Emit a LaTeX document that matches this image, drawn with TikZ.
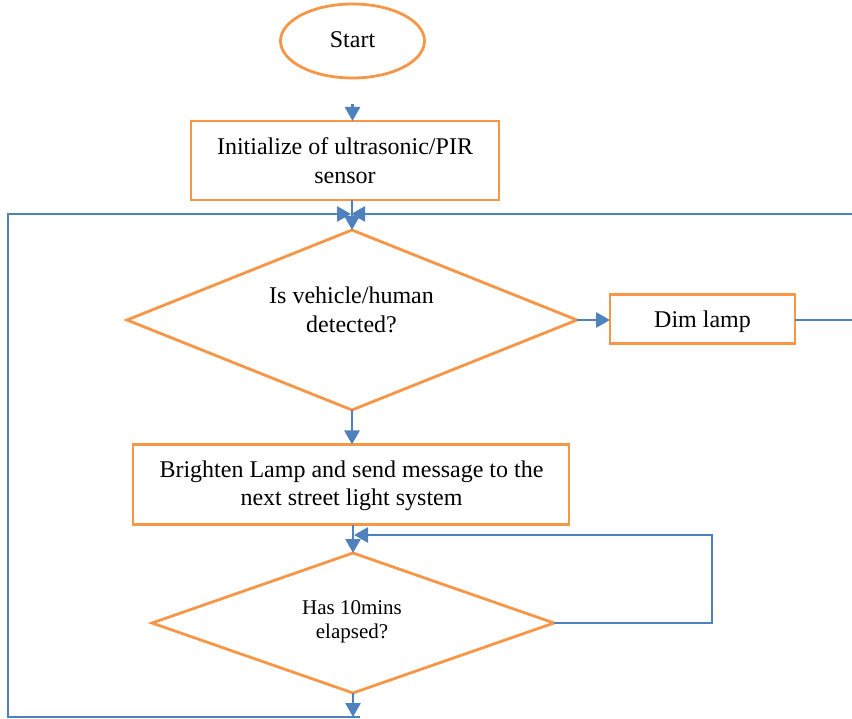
\documentclass[tikz,border=0pt]{standalone}
\usepackage{fontspec}
\setmainfont{Liberation Serif}
\usetikzlibrary{shapes.geometric,arrows.meta}
\definecolor{flowor}{RGB}{247,150,70}
\definecolor{flowbl}{RGB}{79,129,189}
\tikzset{
  box/.style={draw=flowor, line width=2.8pt, rectangle, inner sep=0pt, outer sep=0pt, align=center, font=\fontsize{24}{28.5}\selectfont},
  decision/.style={draw=flowor, line width=2.8pt, diamond, inner sep=0pt, outer sep=0pt},
  term/.style={draw=flowor, line width=2.8pt, ellipse, inner sep=0pt, outer sep=0pt},
  lbl/.style={align=center, inner sep=0pt, font=\fontsize{24}{28.5}\selectfont},
  lblsmall/.style={align=center, inner sep=0pt, font=\fontsize{21}{23.5}\selectfont},
  arr/.style={draw=flowbl, line width=2.7pt, -{Triangle[length=14pt,width=15pt]}},
}
\begin{document}
\begin{tikzpicture}[x=1pt,y=-1pt]
\useasboundingbox (0,0) rectangle (852,719);
\clip (0,0) rectangle (852,719);

% shapes
\node[term, minimum width=144pt, minimum height=74pt] (start) at (352.5,41) {};
\node[lbl, anchor=base] (startt) at (352.5,48) {Start};
\node[box, minimum width=308pt, minimum height=79pt] (init) at (345,160.5) {Initialize of ultrasonic/PIR\\sensor};
\node[decision, minimum width=450pt, minimum height=180pt] (d1) at (352,320) {};
\node[lbl] (d1t) at (351.5,310) {Is vehicle/human\\detected?};
\node[box, minimum width=185pt, minimum height=49pt, text height=17.2pt, text depth=0pt] (dim) at (702.5,319) {Dim lamp};
\node[box, minimum width=436pt, minimum height=80pt] (bright) at (351,484.5) {};
\node[lbl] (brightt) at (351.5,486) {Brighten Lamp and send message to the\\next street light system};
\node[decision, minimum width=402pt, minimum height=140pt] (d2) at (353,623) {};
\node[lblsmall] (d2t) at (352,621.7) {Has 10mins\\elapsed?};

% helper coordinates
\coordinate (j) at (351,214);
\coordinate (lx) at (8,214);
\coordinate (rx) at (856,214);
\coordinate (rx2) at (712,535);
\coordinate (j2) at (354,535);
\coordinate (b) at (353,717);
\coordinate (bl) at (360,717);

% connectors
\draw[arr, shorten <=26pt] (start.south) -- (start.south |- init.north);
\draw[arr] (d1.north |- init.south) -- (d1.north);
\draw[arr] (bl) -- (bl -| lx) -- (lx) -- (j);
\draw[arr] (dim.east |- d1.east) -- (d1.east -| rx) -- (rx) -- (j);
\draw[arr] (d1.east) -- (dim.west |- d1.east);
\draw[arr] (d1.south) -- (d1.south |- bright.north);
\draw[arr] (d2.north |- bright.south) -- (d2.north);
\draw[arr] (d2.east) -- (d2.east -| rx2) -- (rx2) -- (j2);
\draw[arr] (d2.south) -- (b);
\end{tikzpicture}
\end{document}
